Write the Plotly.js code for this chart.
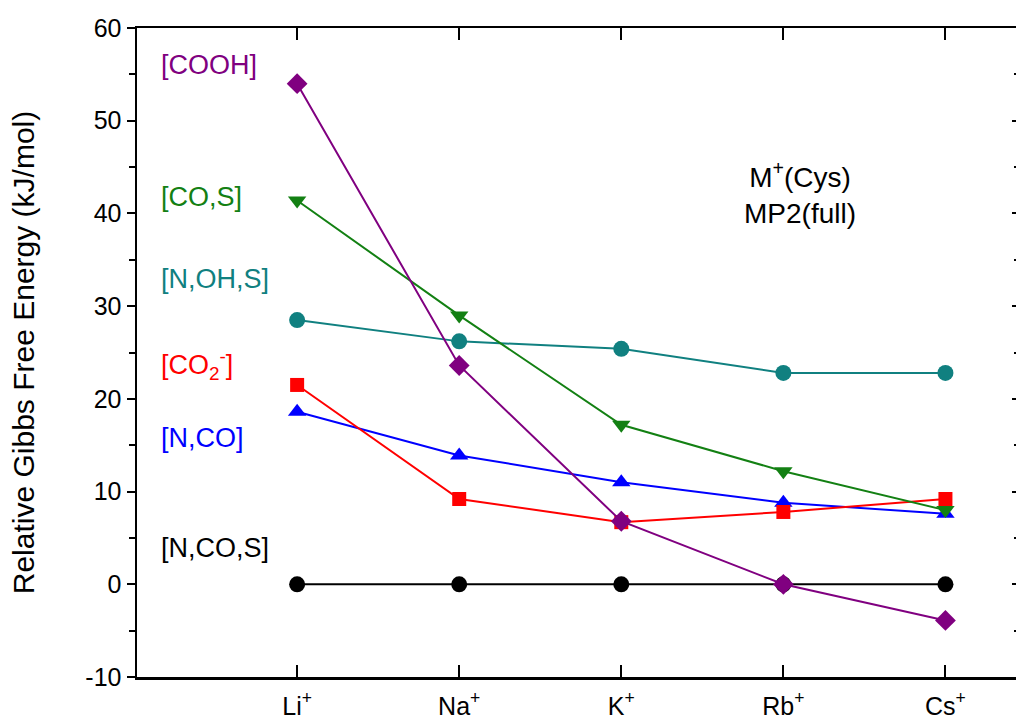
<!DOCTYPE html>
<html>
<head>
<meta charset="utf-8">
<script src="https://cdn.plot.ly/plotly-3.0.1.min.js"></script>
<style>
html,body{margin:0;padding:0;overflow:hidden;background:#fff;}
#chart{width:1020px;height:721px;}
</style>
</head>
<body>
<div id="chart"></div>
<script>
var cations = ["Li<sup>+</sup>", "Na<sup>+</sup>", "K<sup>+</sup>", "Rb<sup>+</sup>", "Cs<sup>+</sup>"];
var xPos = [1, 2, 3, 4, 5];

var yTickVals = [-10, 0, 10, 20, 30, 40, 50, 60];
var yTickText = ["-10", "0", "10", "20", "30", "40", "50", "60"];

var nCoS   = [0, 0, 0, 0, 0];
var nCo    = [18.6, 13.9, 11.0, 8.8, 7.6];
var co2    = [21.5, 9.2, 6.7, 7.8, 9.2];
var nOhS   = [28.5, 26.2, 25.4, 22.8, 22.8];
var coS    = [41.4, 29.0, 17.2, 12.2, 8.0];
var cooh   = [54.0, 23.6, 6.8, 0.0, -3.9];

var labels = ["[COOH]", "[CO,S]", "[N,OH,S]", "[CO<sub>2</sub><sup>-</sup>]", "[N,CO]", "[N,CO,S]"];
var labelY = [56.0, 41.8, 32.9, 23.6, 15.8, 3.9];
var labelColors = ["#800080", "#138013", "#108080", "#ff0000", "#0000ff", "#000000"];

function series(y, color, symbol, size) {
  return {
    x: xPos, y: y, type: "scatter", mode: "lines+markers",
    line: {color: color, width: 2},
    marker: {color: color, symbol: symbol, size: size},
    showlegend: false, hoverinfo: "skip"
  };
}

var traces = [
  series(nCoS, "#000000", "circle", 16),
  series(nOhS, "#108080", "circle", 16),
  series(nCo, "#0000ff", "triangle-up", 16),
  series(co2, "#ff0000", "square", 14),
  series(coS, "#138013", "triangle-down", 16),
  series(cooh, "#800080", "diamond", 16),
  {x: [1], y: [0], yaxis: "y2", type: "scatter", mode: "markers",
   marker: {opacity: 0}, showlegend: false, hoverinfo: "skip"}
];

var fam = "Liberation Sans, Arial, sans-serif";
var tickFont = {family: fam, size: 25, color: "#000"};

var annotations = labels.map(function (t, i) {
  return {
    x: 0.15, y: labelY[i], xref: "x", yref: "y", text: t,
    showarrow: false, xanchor: "left", yanchor: "middle",
    font: {family: fam, size: 27, color: labelColors[i]}
  };
});
annotations.push({
  x: 4.1, y: 42.2, xref: "x", yref: "y",
  text: "M<sup>+</sup>(Cys)<br>MP2(full)", showarrow: false,
  xanchor: "center", yanchor: "middle", align: "center",
  font: {family: fam, size: 28, color: "#000"}
});

var layout = {
  width: 1020, height: 721,
  margin: {l: 137, r: 0, t: 28, b: 44},
  paper_bgcolor: "#fff", plot_bgcolor: "#fff",
  font: tickFont,
  xaxis: {
    range: [0.012, 5.46], tickvals: xPos, ticktext: cations,
    ticks: "inside", ticklen: 12, tickwidth: 2, tickcolor: "#000",
    ticklabelstandoff: 5,
    showline: true, linewidth: 2.5, linecolor: "#000", mirror: "ticks",
    showgrid: false, zeroline: false, tickfont: tickFont
  },
  yaxis: {
    range: [-10, 60], tickvals: yTickVals, ticktext: yTickText,
    ticks: "outside", ticklen: 8, tickwidth: 2, tickcolor: "#000",
    minor: {dtick: 5, tick0: 0, ticks: "outside", ticklen: 6, tickwidth: 2, tickcolor: "#000", showgrid: false},
    showline: true, linewidth: 2.5, linecolor: "#000", mirror: false,
    showgrid: false, zeroline: false, tickfont: tickFont,
    title: {text: "Relative Gibbs Free Energy (kJ/mol)", font: {family: fam, size: 30, color: "#000"}, standoff: 42}
  },
  yaxis2: {
    overlaying: "y", side: "right", anchor: "x",
    range: [-10, 60], dtick: 10, tick0: 0,
    ticks: "inside", ticklen: 8, tickwidth: 2, tickcolor: "#000",
    minor: {dtick: 5, ticks: "inside", ticklen: 6, tickwidth: 2, tickcolor: "#000", showgrid: false},
    showticklabels: false, showline: false, showgrid: false, zeroline: false
  },
  annotations: annotations
};

Plotly.newPlot("chart", traces, layout, {displayModeBar: false, staticPlot: true});
</script>
</body>
</html>
